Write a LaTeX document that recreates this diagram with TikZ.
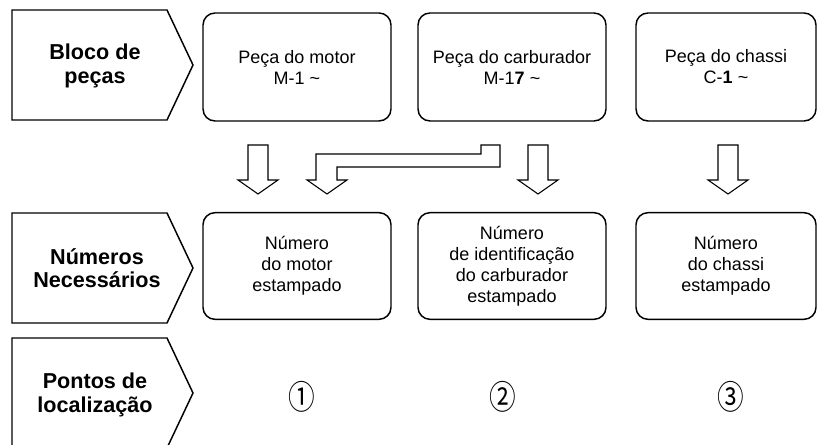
\documentclass[tikz,border=0pt]{standalone}
\usepackage{fontspec}
\setmainfont{Liberation Sans}
\newfontfamily\circfont{Noto Sans CJK SC}
\newcommand{\tl}{\textasciitilde}
\newcommand{\spotmark}[1]{\scalebox{0.8}[1]{#1}}

\begin{document}
\begin{tikzpicture}[x=0.75pt,y=-0.75pt,
        part/.style={draw,line width=1.1pt,rounded corners=9pt,minimum width=141pt,minimum height=81pt,
            align=center,font=\fontsize{13.5}{15.75}\selectfont},
        stage/.style={align=center,font=\fontsize{16.2}{17.5}\selectfont\bfseries},
        flow/.style={draw,line width=0.8pt,fill=white},
        spot/.style={font=\circfont\fontsize{25}{25}\selectfont}]
    \useasboundingbox (0,0) rectangle (818,445);
    \clip (0,0) rectangle (818,445);
    % row heads
    \foreach \t in {10,213,338}
        \draw[line width=1.1pt] (12,\t) -- (167,\t) -- (193,\t+55) -- (167,\t+110) -- (12,\t+110) -- cycle;
    \node[stage] (blk) at (95,66) {Bloco de\\peças};
    \node[stage] (num) at (97,268) {Números\\Necessários};
    \node[stage] (pts) at (95,395) {Pontos de\\localização};
    % parts
    \node[part] (motor) at (297,67) {Peça do motor\\M-1 \tl};
    \node[part] (carb) at (512,67) {Peça do carburador\\M-1\textbf{7} \tl};
    \node[part,minimum width=135pt] (chassi) at (726,67) {Peça do chassi\\C-\textbf{1} \tl};
    % numbers
    \node[part,minimum height=80pt] (nmotor) at (297,266) {Número\\do motor\\estampado};
    \node[part,minimum height=80pt] (ncarb) at (512,266) {Número\\de identificação\\do carburador\\estampado};
    \node[part,minimum height=80pt,minimum width=135pt] (nchassi) at (726,266) {Número\\do chassi\\estampado};
    % arrows
    \foreach \c in {258,538,728}
        \draw[flow] (\c-10,145) -- (\c+10,145) -- (\c+10,180) -- (\c+20,180) -- (\c,194)
            -- (\c-20,180) -- (\c-10,180) -- cycle;
    \draw[flow] (316,180) -- (316,154) -- (481,154) -- (481,145) -- (500,145) -- (500,167)
        -- (337,167) -- (337,180) -- (347,180) -- (327,194) -- (307,180) -- cycle;
    % location points
    \node[spot] (p1) at (302,397) {\spotmark{①}};
    \node[spot] (p2) at (503,397) {\spotmark{②}};
    \node[spot] (p3) at (731,397) {\spotmark{③}};
\end{tikzpicture}
\end{document}
